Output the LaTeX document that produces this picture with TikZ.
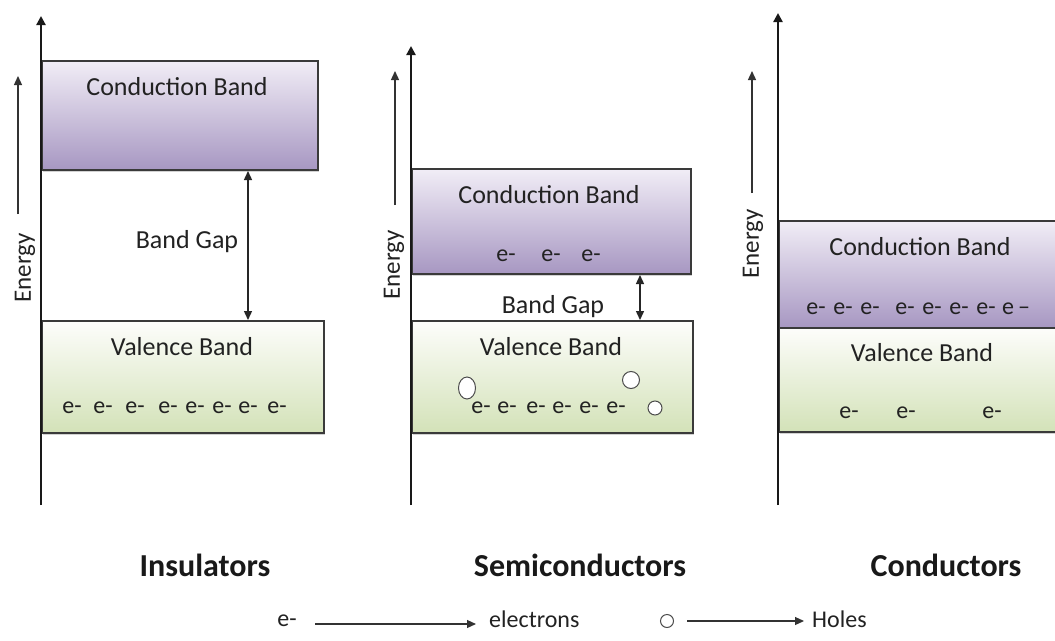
\documentclass[tikz,border=0pt]{standalone}
\usepackage{fontspec}
\setmainfont{Carlito}
\usetikzlibrary{arrows.meta,calc,shapes.geometric,shadows}
\definecolor{txt}{HTML}{222222}
\definecolor{edge}{HTML}{3A3A3A}
\definecolor{purpD}{HTML}{A797C2}
\definecolor{purpL}{HTML}{F1EDF6}
\definecolor{greenD}{HTML}{D3E2B8}
\definecolor{greenL}{HTML}{FDFDFB}
\tikzset{
  cband/.style={draw=edge, line width=2pt, top color=purpL, bottom color=purpD, inner sep=0pt,
    drop shadow={shadow xshift=1pt, shadow yshift=-1.5pt, opacity=0.35}},
  vband/.style={draw=edge, line width=2pt, top color=greenL, bottom color=greenD, inner sep=0pt,
    drop shadow={shadow xshift=1pt, shadow yshift=-1.5pt, opacity=0.35}},
  lbl/.style={text=txt, font=\fontsize{26}{28}\selectfont, inner sep=0pt},
  el/.style={text=txt, font=\fontsize{24}{26}\selectfont, inner sep=0pt},
  title/.style={text=black!90, font=\fontsize{32}{34}\selectfont\bfseries, inner sep=0pt},
  axis/.style={line width=2.2pt, draw=black!90, -{Triangle[length=9pt,width=9pt]}},
  earrow/.style={line width=1.3pt, draw=black!80, -{Triangle[length=9pt,width=8pt]}},
  gaparrow/.style={line width=1.4pt, draw=black!85, {Triangle[length=9pt,width=8pt]}-{Triangle[length=9pt,width=8pt]}},
  energy/.style={text=txt, font=\fontsize{25}{27}\selectfont, rotate=90, inner sep=0pt},
  hole/.style={draw=black!70, fill=white, line width=1pt, inner sep=0pt, ellipse},
}
\begin{document}
\begin{tikzpicture}[x=1pt,y=-1pt]
\useasboundingbox[fill=white] (0,0) rectangle (1055,640);

% ---------- Panel 1: Insulators ----------
\coordinate (a1b) at (41,505); \coordinate (a1t) at (41,16);
\node[cband, minimum width=276pt, minimum height=109pt, anchor=north west] (c1) at (41,60) {};
\node[vband, minimum width=282pt, minimum height=112pt, anchor=north west] (v1) at (41,320) {};
\draw[axis] (a1b) -- (a1t);
\node[lbl] (c1t) at (177,87) {Conduction Band};
\node[lbl] (v1t) at (182,347) {Valence Band};
\node[lbl] (g1t) at (187,242) {Band Gap};
\draw[gaparrow] (c1.south -| 248,0) -- (v1.north -| 248,0);
\foreach \x [count=\i] in {72,103,135,168,195,222,248,277}
  \node[el] (e1\i) at (\x,408) {e-};
\coordinate (en1b) at (18,214); \coordinate (en1t) at (18,76);
\draw[earrow] (en1b) -- (en1t);
\node[energy] (en1) at (25,268) {Energy};
\node[title] (t1) at (205,565) {Insulators};

% ---------- Panel 2: Semiconductors ----------
\coordinate (a2b) at (411,505); \coordinate (a2t) at (411,46);
\node[cband, minimum width=279pt, minimum height=105pt, anchor=north west] (c2) at (411,168) {};
\node[vband, minimum width=281pt, minimum height=112pt, anchor=north west] (v2) at (411,320) {};
\draw[axis] (a2b) -- (a2t);
\node[lbl] (c2t) at (549,195) {Conduction Band};
\node[lbl] (v2t) at (551,347) {Valence Band};
\node[lbl, anchor=south] (g2t) at (553,318) {Band Gap};
\draw[gaparrow] (c2.south -| 640,0) -- (v2.north -| 640,0);
\foreach \x [count=\i] in {506,551,591}
  \node[el] (ec2\i) at (\x,256) {e-};
\foreach \x [count=\i] in {481,507,536,562,589,616}
  \node[el] (ev2\i) at (\x,408) {e-};
\node[hole, minimum width=17pt, minimum height=22pt] (h1) at (467,388) {};
\node[hole, minimum width=17pt, minimum height=17pt] (h2) at (631,380) {};
\node[hole, minimum width=14pt, minimum height=14pt] (h3) at (655,408) {};
\coordinate (en2b) at (395,205); \coordinate (en2t) at (395,71);
\draw[earrow] (en2b) -- (en2t);
\node[energy] (en2) at (394,265) {Energy};
\node[title] (t2) at (580,565) {Semiconductors};

% ---------- Panel 3: Conductors ----------
\coordinate (a3b) at (778,505); \coordinate (a3t) at (778,13);
\node[cband, minimum width=282pt, minimum height=107pt, anchor=north west] (c3) at (778,220) {};
\node[vband, minimum width=282pt, minimum height=104pt, anchor=north west] (v3) at (778,327) {};
\draw[axis] (a3b) -- (a3t);
\node[lbl] (c3t) at (920,247) {Conduction Band};
\node[lbl] (v3t) at (922,353) {Valence Band};
\foreach \x [count=\i] in {816,843,870,905,932,959,986}
  \node[el] (ec3\i) at (\x,309) {e-};
\node[el, anchor=west] (ec38) at (1002,309) {e\,--};
\foreach \x [count=\i] in {849,906,992}
  \node[el] (ev3\i) at (\x,413) {e-};
\coordinate (en3b) at (752,193); \coordinate (en3t) at (752,71);
\draw[earrow] (en3b) -- (en3t);
\node[energy] (en3) at (753,244) {Energy};
\node[title] (t3) at (946,565) {Conductors};

% ---------- Legend ----------
\node[el] (le) at (287,621) {e-};
\node[el, anchor=west] (lelec) at (489,619) {electrons};
\coordinate (lea) at (315,624);
\coordinate (leb) at ($(lelec.west |- lea)+(-13,0)$);
\draw[earrow, line width=1.2pt] (lea) -- (leb);
\node[hole, circle, minimum size=13pt] (lh) at (667,621) {};
\node[el, anchor=west] (lholes) at (812,619) {Holes};
\coordinate (lha) at ($(lh.east)+(13,0)$);
\coordinate (lhb) at ($(lholes.west |- lha)+(-8,0)$);
\draw[earrow, line width=1.2pt] (lha) -- (lhb);
\end{tikzpicture}
\end{document}
